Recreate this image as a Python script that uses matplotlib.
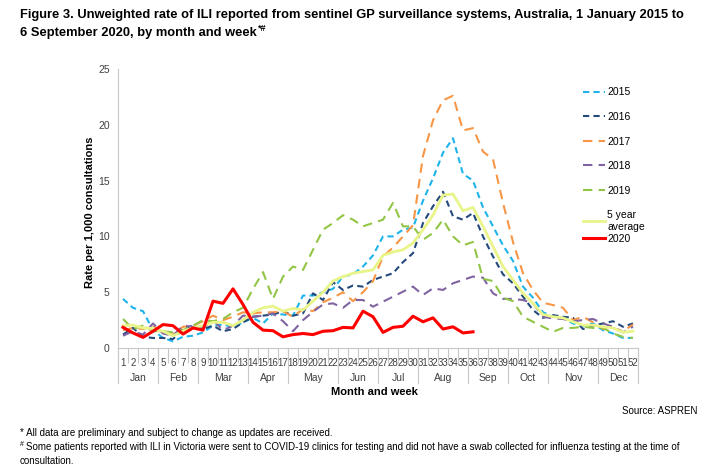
import matplotlib
matplotlib.use('Agg')
import matplotlib.pyplot as plt
from matplotlib import font_manager
from matplotlib.transforms import blended_transform_factory

# pick a narrow sans if there is one (closest to Calibri)
names = {f.name for f in font_manager.fontManager.ttflist}
base_font = 'Liberation Sans Narrow' if 'Liberation Sans Narrow' in names else 'Liberation Sans'
plt.rcParams['font.family'] = [base_font, 'DejaVu Sans']

weeks = list(range(1, 53))
months = ['Jan', 'Feb', 'Mar', 'Apr', 'May', 'Jun', 'Jul', 'Aug', 'Sep', 'Oct', 'Nov', 'Dec']
month_weeks = [4, 4, 5, 4, 5, 4, 4, 5, 4, 4, 5, 4]

y2015 = [4.4, 3.6, 3.3, 1.6, 0.9, 0.6, 1.0, 1.1, 1.4, 2.0, 2.1, 1.9, 2.3, 2.7, 2.2, 3.1,
         3.0, 2.9, 4.7, 4.7, 5.0, 5.3, 6.4, 6.6, 7.3, 8.3, 10.0, 10.0, 10.6, 10.8, 13.2,
         15.2, 17.5, 18.8, 15.6, 15.0, 12.6, 10.9, 9.2, 7.8, 5.5, 4.5, 3.2, 2.8, 2.7, 2.2,
         2.0, 2.2, 1.6, 1.3, 0.9, 0.9]
y2016 = [1.2, 1.8, 1.0, 0.9, 0.9, 0.8, 1.7, 2.0, 1.7, 2.0, 1.5, 1.7, 2.3, 2.8, 2.9, 3.0,
         3.3, 2.9, 3.1, 4.9, 4.3, 5.9, 5.2, 5.6, 5.5, 6.1, 6.4, 6.7, 7.7, 8.5, 11.2, 12.7,
         14.0, 11.8, 11.5, 12.1, 10.0, 8.2, 6.6, 5.8, 4.6, 3.4, 2.7, 2.95, 2.8, 2.7, 1.7,
         2.0, 2.2, 2.4, 1.9, 2.2]
y2017 = [1.6, 1.8, 1.7, 2.0, 1.3, 1.2, 1.9, 2.0, 2.4, 2.9, 2.5, 2.8, 3.2, 3.1, 3.2, 3.2,
         3.3, 2.8, 3.5, 3.3, 4.1, 4.5, 5.0, 4.2, 5.0, 6.0, 8.2, 9.0, 10.0, 11.0, 17.2, 20.4,
         22.2, 22.6, 19.5, 19.7, 17.6, 16.9, 13.0, 9.5, 6.7, 5.2, 4.05, 3.85, 3.6, 2.5, 2.8,
         2.3, 1.7, 1.8, 1.5, 2.1]
y2018 = [1.1, 1.5, 1.2, 2.2, 1.3, 1.1, 2.0, 1.9, 1.8, 2.5, 1.6, 2.0, 2.9, 2.8, 2.9, 3.1,
         2.4, 1.5, 2.5, 3.25, 3.9, 4.0, 3.6, 4.3, 4.3, 3.7, 4.15, 4.6, 5.05, 5.5, 4.75, 5.35,
         5.2, 5.8, 6.1, 6.4, 6.3, 4.9, 4.4, 4.4, 4.3, 4.0, 2.8, 2.65, 2.6, 2.4, 2.5, 2.6,
         2.2, 1.9, 1.4, 1.9]
y2019 = [2.6, 1.7, 2.0, 1.5, 1.5, 1.4, 1.6, 2.0, 2.5, 2.4, 2.6, 3.2, 3.6, 5.3, 6.8, 4.4,
         6.4, 7.3, 7.0, 8.8, 10.6, 11.2, 11.9, 11.5, 10.9, 11.2, 11.5, 13.0, 10.9, 10.9, 9.7,
         10.3, 11.5, 10.0, 9.2, 9.5, 6.2, 6.0, 4.5, 4.2, 2.8, 2.35, 1.9, 1.45, 1.8, 1.8, 1.9,
         1.8, 1.8, 1.3, 1.0, 0.9]
avg5 = [2.0, 2.05, 1.8, 1.75, 1.5, 1.1, 1.5, 1.8, 2.0, 2.3, 2.3, 2.0, 2.5, 3.2, 3.6, 3.75,
        3.3, 3.55, 3.4, 4.2, 5.0, 6.0, 6.4, 6.7, 6.85, 7.0, 8.3, 8.6, 8.8, 9.4, 10.6, 11.9,
        13.7, 13.8, 12.3, 12.6, 10.9, 9.1, 7.3, 6.1, 4.9, 4.0, 3.0, 2.8, 2.7, 2.35, 2.05,
        2.05, 1.9, 1.8, 1.4, 1.5]
y2020 = [1.85, 1.35, 0.95, 1.5, 2.1, 2.0, 1.25, 1.8, 1.6, 4.2, 4.0, 5.3, 3.9, 2.3, 1.6, 1.55,
         1.0, 1.2, 1.3, 1.2, 1.5, 1.55, 1.85, 1.8, 3.3, 2.8, 1.4, 1.85, 1.95, 2.85, 2.35, 2.7,
         1.7, 1.9, 1.35, 1.45]

fig = plt.figure(figsize=(7.12, 4.7), dpi=100)
ax = fig.add_axes([118 / 712, 1 - 348 / 470, 520 / 712, 279 / 470])

short = (3, 2)
long_ = (4.5, 3)
ax.plot(weeks, y2015, color='#1EB4EA', lw=1.5, dashes=short, label='2015')
ax.plot(weeks, y2016, color='#244A7C', lw=1.5, dashes=short, label='2016')
ax.plot(weeks, y2017, color='#F79646', lw=1.5, dashes=long_, label='2017')
ax.plot(weeks, y2018, color='#8064A2', lw=1.5, dashes=long_, label='2018')
ax.plot(weeks, y2019, color='#92C545', lw=1.5, dashes=long_, label='2019')
ax.plot(weeks, avg5, color='#E9F589', lw=2.0, label='5 year\naverage')
ax.plot(weeks[:len(y2020)], y2020, color='#FF0000', lw=2.2, label='2020')

ax.set_xlim(0.5, 52.5)
ax.set_ylim(0, 25)
ax.set_yticks(range(0, 26, 5))
ax.tick_params(axis='y', length=0, labelsize=7.5, pad=6, colors='#404040')
for s in ['top', 'right']:
    ax.spines[s].set_visible(False)
for s in ['left', 'bottom']:
    ax.spines[s].set_color('#C8C8C8')
    ax.spines[s].set_linewidth(0.8)

# week labels and category separators
ax.set_xticks(weeks)
ax.set_xticklabels([str(w) for w in weeks])
ax.tick_params(axis='x', which='major', length=0, labelsize=7, pad=7, colors='#404040')
ax.set_xticks([w + 0.5 for w in range(0, 53)], minor=True)
ax.tick_params(axis='x', which='minor', length=11, width=0.8, color='#C8C8C8')

# month labels
trans = blended_transform_factory(ax.transData, ax.transAxes)
start = 0.5
for m, n in zip(months, month_weeks):
    ax.plot([start, start], [0, -0.125], transform=trans, color='#C8C8C8', lw=0.8, clip_on=False)
    ax.text(start + n / 2, -0.107, m, transform=trans, ha='center', va='center',
            fontsize=7.5, color='#404040')
    start += n
ax.plot([start, start], [0, -0.125], transform=trans, color='#C8C8C8', lw=0.8, clip_on=False)

fig.text(374 / 712, 1 - 392 / 470, 'Month and week', ha='center', va='center',
         fontsize=8, fontweight='bold')
fig.text(90 / 712, 1 - 212 / 470, 'Rate per 1,000 consultations', rotation=90,
         ha='center', va='center', fontsize=8, fontweight='bold')

# legend in two parts so 2020 sits close under the two-line entry
handles, labels = ax.get_legend_handles_labels()
leg1 = ax.legend(handles[:6], labels[:6], loc='upper left', bbox_to_anchor=(574 / 712, 1 - 78 / 470),
                 bbox_transform=fig.transFigure, frameon=False, fontsize=7.5,
                 handlelength=2.1, handletextpad=0.2, labelspacing=1.4)
ax.add_artist(leg1)
ax.legend(handles[6:], labels[6:], loc='center left', bbox_to_anchor=(574 / 712, 1 - 239 / 470),
          bbox_transform=fig.transFigure, frameon=False, fontsize=7.5,
          handlelength=2.1, handletextpad=0.2)

fig.text(20 / 712, 1 - 15 / 470,
         'Figure 3. Unweighted rate of ILI reported from sentinel GP surveillance systems, '
         'Australia, 1 January 2015 to', fontsize=9.3, fontweight='bold', va='center')
t2 = fig.text(20 / 712, 1 - 33 / 470, '6 September 2020, by month and week',
              fontsize=9.3, fontweight='bold', va='center')
ax.annotate('*#', xy=(1, 1), xycoords=t2, xytext=(0.5, 2), textcoords='offset points',
            fontsize=6.5, fontweight='bold', ha='left', va='top', annotation_clip=False)

fig.text(697 / 712, 1 - 411 / 470, 'Source: ASPREN', ha='right', va='center', fontsize=7)
fig.text(20 / 712, 1 - 433 / 470,
         '* All data are preliminary and subject to change as updates are received.',
         fontsize=7, va='center')
fig.text(20 / 712, 1 - 444 / 470, '#', fontsize=5, va='center')
fig.text(26 / 712, 1 - 447 / 470,
         'Some patients reported with ILI in Victoria were sent to COVID-19 clinics '
         'for testing and did not have a swab collected for influenza testing at the time of',
         fontsize=7, va='center')
fig.text(20 / 712, 1 - 461 / 470, 'consultation.', fontsize=7, va='center')

fig.savefig('out.png', dpi=100)
